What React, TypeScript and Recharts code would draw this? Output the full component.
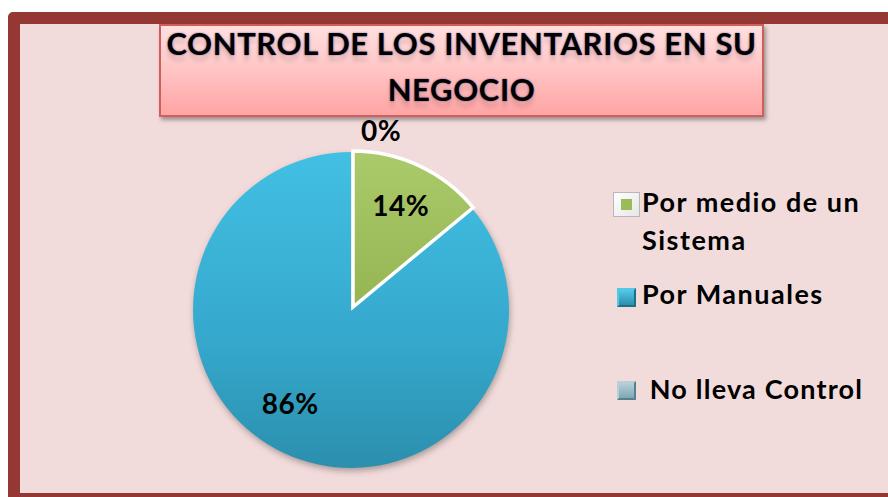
import { Cell, Legend, Pie, PieChart } from "recharts"

// categories + values (percent of businesses)
const categories = ["Por medio de un Sistema", "Por Manuales", "No lleva Control"]
const legendLines = [["Por medio de un", "Sistema"], ["Por Manuales"], [" No lleva Control"]]
const values = [14, 86, 0]
const titleLines = ["CONTROL DE LOS INVENTARIOS EN SU", "NEGOCIO"]

const data = categories.map((name, i) => ({ name, value: values[i] }))

const FONT = "Lato, 'Open Sans', sans-serif"
const RAD = Math.PI / 180

// legend layout (relative to legend wrapper)
const legendLayout = [
  { markerX: 13, markerY: 22, markerW: 27, markerH: 25, textX: 42, textY: 13, lh: 38, ls: 1.5 },
  { markerX: 17, markerY: 118, markerW: 19, markerH: 19, textX: 42, textY: 108, lh: 32, ls: 1.5 },
  { markerX: 17, markerY: 211, markerW: 19, markerH: 19, textX: 42, textY: 203, lh: 32, ls: 1.2 },
]

// small nudges so labels sit where Excel's "best fit" put them
const labelNudge = [
  { dx: 0, dy: 0 },
  { dx: -15, dy: -6 },
  { dx: 0, dy: 0 },
]

function Marker({ i, w, h }: { i: number; w: number; h: number }) {
  if (i === 0) {
    return (
      <div
        style={{
          width: w,
          height: h,
          boxSizing: "border-box",
          background: "linear-gradient(135deg,#ffffff,#e6e6e6)",
          border: "1px solid #b8b8b8",
          display: "flex",
          alignItems: "center",
          justifyContent: "center",
        }}
      >
        <div style={{ width: 11, height: 11, background: "#9bbb59" }} />
      </div>
    )
  }
  const c = i === 1 ? ["#55c8e8", "#2a8fae", "#1f6f88"] : ["#b6d0da", "#7ea7b6", "#587f8e"]
  return (
    <div
      style={{
        width: w,
        height: h,
        boxSizing: "border-box",
        background: `linear-gradient(180deg,${c[0]},${c[1]})`,
        border: `2px solid ${c[2]}`,
        borderTopColor: c[0],
        borderLeftColor: c[0],
      }}
    />
  )
}

function renderLegend() {
  return (
    <div style={{ position: "relative", width: 280, height: 240, fontFamily: FONT }}>
      {legendLines.map((lines, i) => {
        const l = legendLayout[i]
        return (
          <div key={i}>
            <div style={{ position: "absolute", left: l.markerX, top: l.markerY }}>
              <Marker i={i} w={l.markerW} h={l.markerH} />
            </div>
            <div
              style={{
                position: "absolute",
                left: l.textX,
                top: l.textY,
                fontSize: 27,
                letterSpacing: l.ls,
                fontWeight: 700,
                lineHeight: `${l.lh}px`,
                color: "#000",
                whiteSpace: "pre",
                textAlign: "left",
              }}
            >
              {lines.map((t, k) => (
                <div key={k}>{t}</div>
              ))}
            </div>
          </div>
        )
      })}
    </div>
  )
}

function renderLabel(props: any) {
  const { cx, cy, midAngle, outerRadius, percent, value, index } = props
  const pct = Math.round(percent * 100)
  const common = { fontFamily: FONT, fontSize: 28, fontWeight: 700, fill: "#000", letterSpacing: 0.5 }
  const n = labelNudge[index] || { dx: 0, dy: 0 }
  if (value === 0) {
    const r = outerRadius + 21
    const x = cx + r * Math.cos(-midAngle * RAD)
    const y = cy + r * Math.sin(-midAngle * RAD)
    return (
      <text x={x + 8 + n.dx} y={y + n.dy} textAnchor="start" dominantBaseline="central" {...common}>
        {pct}%
      </text>
    )
  }
  const r = outerRadius * 0.72
  const x = cx + r * Math.cos(-midAngle * RAD)
  const y = cy + r * Math.sin(-midAngle * RAD)
  return (
    <text x={x + n.dx} y={y + n.dy} textAnchor="middle" dominantBaseline="central" {...common}>
      {pct}%
    </text>
  )
}

export default function App() {
  return (
    <div style={{ position: "fixed", left: 0, top: 0, width: 888, height: 497, overflow: "hidden", background: "#fff", fontFamily: FONT }}>
      {/* dark red frame, clipped on right/bottom */}
      <div
        style={{
          position: "absolute",
          left: 8,
          top: 12,
          width: 900,
          height: 493,
          boxSizing: "border-box",
          border: "12px solid #953735",
          borderRadius: 5,
          background: "#f2dcdb",
        }}
      />

      {/* title box */}
      <div
        style={{
          position: "absolute",
          left: 159,
          top: 24,
          width: 605,
          height: 93,
          boxSizing: "border-box",
          border: "2px solid #cf5f5b",
          background: "linear-gradient(180deg,#ffe0e0 0%,#ffc4c4 50%,#ffa4a4 100%)",
          boxShadow: "2px 3px 4px rgba(0,0,0,0.35)",
        }}
      />
      {titleLines.map((t, i) => (
        <div
          key={i}
          style={{
            position: "absolute",
            left: 159,
            width: 605,
            top: i === 0 ? 24 : 70,
            textAlign: "center",
            fontSize: 31,
            letterSpacing: 0.6,
            fontWeight: 700,
            lineHeight: "38px",
            color: "#000",
            textShadow: "0 0 2px rgba(60,40,120,0.75), 0 6px 4px rgba(0,0,0,0.12)",
            whiteSpace: "nowrap",
          }}
        >
          {t}
        </div>
      ))}

      <div style={{ position: "absolute", left: 0, top: 0 }}>
        <PieChart width={888} height={497} margin={{ top: 0, right: 0, bottom: 0, left: 0 }}>
          <defs>
            <linearGradient id="blueFill" x1="0" y1="0" x2="0" y2="1">
              <stop offset="0%" stopColor="#42c0e4" />
              <stop offset="60%" stopColor="#35a8cc" />
              <stop offset="100%" stopColor="#2b8fad" />
            </linearGradient>
            <linearGradient id="greenFill" x1="0" y1="0" x2="0" y2="1">
              <stop offset="0%" stopColor="#abca6b" />
              <stop offset="100%" stopColor="#95b553" />
            </linearGradient>
          </defs>
          {/* main (blue) slice */}
          <Pie
            data={data}
            dataKey="value"
            nameKey="name"
            cx={351}
            cy={310}
            outerRadius={158}
            startAngle={90}
            endAngle={-270}
            isAnimationActive={false}
            legendType="none"
            style={{ filter: "drop-shadow(1px 3px 3px rgba(0,0,0,0.3))" }}
          >
            {data.map((d, i) => (
              <Cell key={d.name} fill={i === 1 ? "url(#blueFill)" : "transparent"} stroke="none" />
            ))}
          </Pie>
          {/* exploded green slice on top */}
          <Pie
            data={data}
            dataKey="value"
            nameKey="name"
            cx={353}
            cy={307}
            outerRadius={156}
            startAngle={90}
            endAngle={-270}
            isAnimationActive={false}
            label={renderLabel}
            labelLine={false}
          >
            {data.map((d, i) => (
              <Cell
                key={d.name}
                fill={i === 0 ? "url(#greenFill)" : "transparent"}
                stroke={i === 0 ? "#ffffff" : "none"}
                strokeWidth={i === 0 ? 3.5 : 0}
              />
            ))}
          </Pie>
          <Legend
            layout="vertical"
            content={renderLegend}
            wrapperStyle={{ position: "absolute", left: 600, top: 170, width: 280 }}
          />
        </PieChart>
      </div>
    </div>
  )
}
